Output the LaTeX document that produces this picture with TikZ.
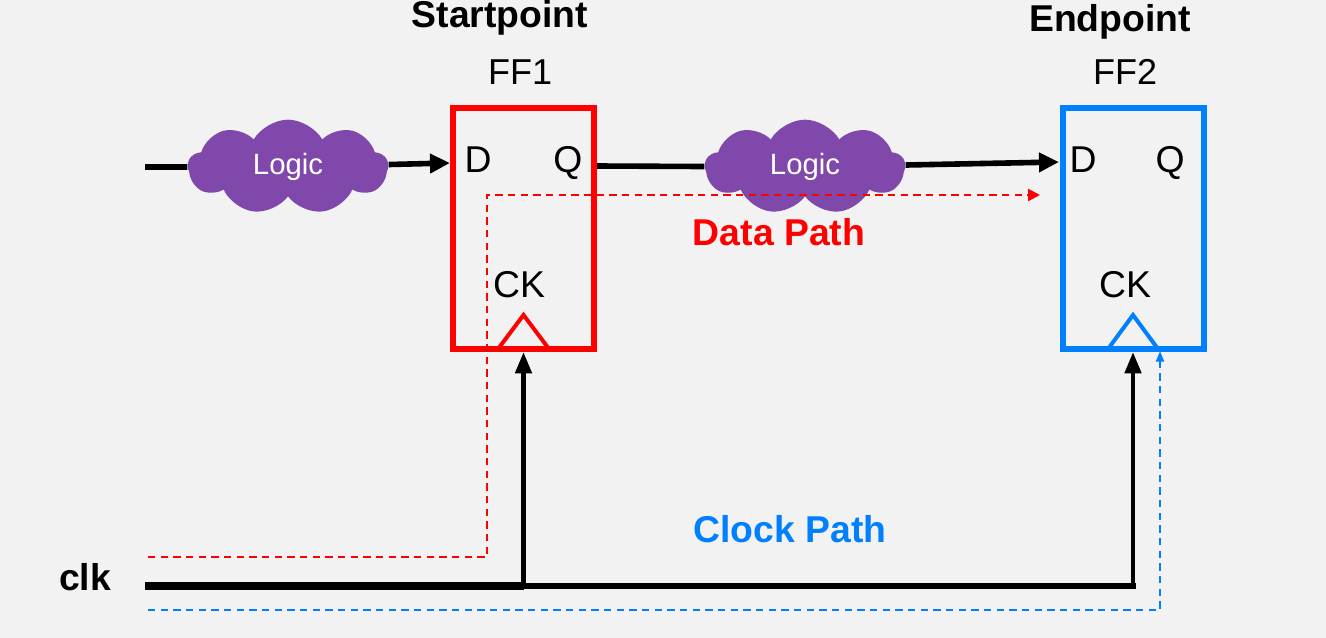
\documentclass[tikz,border=0pt]{standalone}
\usepackage{fontspec}
\setmainfont{Liberation Sans}
\usetikzlibrary{arrows.meta,shapes.symbols}
\definecolor{ffred}{RGB}{255,0,0}
\definecolor{ffblue}{RGB}{0,128,255}
\definecolor{logicpurple}{RGB}{127,72,170}
\definecolor{bggray}{RGB}{242,242,242}
\tikzset{
    ffbox/.style={draw, line width=4.5pt, minimum width=105.75pt, minimum height=180.75pt, inner sep=0pt},
    logic/.style={cloud, cloud puffs=9, cloud puff arc=120, aspect=2.1, fill=logicpurple, minimum width=150pt, minimum height=71pt, inner sep=0pt, text=white, font=\fontsize{22}{24}\selectfont},
    pin/.style={anchor=base, inner sep=0pt, font=\fontsize{28}{32}\selectfont},
    ffname/.style={anchor=base, inner sep=0pt, font=\fontsize{27}{30}\selectfont},
    heading/.style={anchor=base, inner sep=0pt, font=\bfseries\fontsize{28}{32}\selectfont},
    wire/.style={line width=4.2pt},
    clkarrow/.style={line width=3.5pt, -{Triangle[length=16pt,width=12pt]}},
    datapath/.style={ffred, line width=1.8pt, dash pattern=on 5.5pt off 4pt, -{Triangle[length=9pt,width=9pt]}},
    clockpath/.style={ffblue, line width=1.8pt, dash pattern=on 5.5pt off 4pt, -{Triangle[length=8pt,width=6pt]}}
}
\begin{document}
\begin{tikzpicture}[x=0.75pt,y=0.75pt,yscale=-1,xscale=1]
    \fill[bggray] (0,0) rectangle (1326,638);
    \useasboundingbox (0,0) rectangle (1326,638);
    \node[logic] (logicA) at (288,167) {Logic};
    \node[logic] (logicB) at (805,167) {Logic};
    \node[ffbox, draw=ffred] (ff1) at (523.5,228.5) {};
    \node[ffbox, draw=ffblue] (ff2) at (1133,228.5) {};
    \draw[ffred, line width=3pt] (498,349) -- (523.5,315) -- (549,349);
    \draw[ffblue, line width=3pt] (1108,349) -- (1133,315) -- (1158,349);
    \node[heading] (start) at (500,28) {Startpoint};
    \node[heading] (end) at (1110,32) {Endpoint};
    \node[ffname] (ff1name) at (520,85) {FF1};
    \node[ffname] (ff2name) at (1125,85) {FF2};
    \node[pin] (ff1d) at (478,172) {D};
    \node[pin] (ff1q) at (568,172) {Q};
    \node[pin] (ff1ck) at (519,297) {CK};
    \node[pin] (ff2d) at (1083,172) {D};
    \node[pin] (ff2q) at (1170,172) {Q};
    \node[pin] (ff2ck) at (1125,297) {CK};
    \coordinate (din) at (145,167);
    \coordinate (ff1D) at (450,163);
    \coordinate (ff1Q) at (597,166);
    \coordinate (ff2D) at (1059,162);
    \draw[wire] (din) -- (logicA);
    \draw[wire, -{Triangle[length=15pt,width=14pt]}] (logicA) -- (ff1D);
    \draw[wire] (ff1Q) -- (logicB);
    \draw[wire, -{Triangle[length=15pt,width=14pt]}] (logicB) -- (ff2D);
    \coordinate (clkin) at (145,586);
    \coordinate (tap) at (523.5,586);
    \coordinate (turn) at (1133,586);
    \draw[line width=5.5pt] (clkin) -- (tap);
    \draw[wire, line join=miter] (tap) -- (turn) -- ([yshift=-2]turn);
    \draw[clkarrow] (tap) -- (ff1.south);
    \draw[clkarrow] (turn) -- (ff2.south);
    \coordinate (dpstart) at (148,557);
    \coordinate (dpdown) at (487,557);
    \coordinate (dpup) at (487,195);
    \coordinate (dpend) at (1040,195);
    \draw[datapath] (dpstart) -- (dpdown) -- (dpup) -- (dpend);
    \coordinate (cpstart) at (148,610);
    \coordinate (cpturn) at (1160,610);
    \coordinate (cpend) at (1160,351);
    \draw[clockpath] (cpstart) -- (cpturn) -- (cpend);
    \node[heading, text=ffred] (dplabel) at (779,245) {Data Path};
    \node[heading, text=ffblue] (cplabel) at (790,542) {Clock Path};
    \node[heading] (clk) at (85,590) {clk};
\end{tikzpicture}
\end{document}
